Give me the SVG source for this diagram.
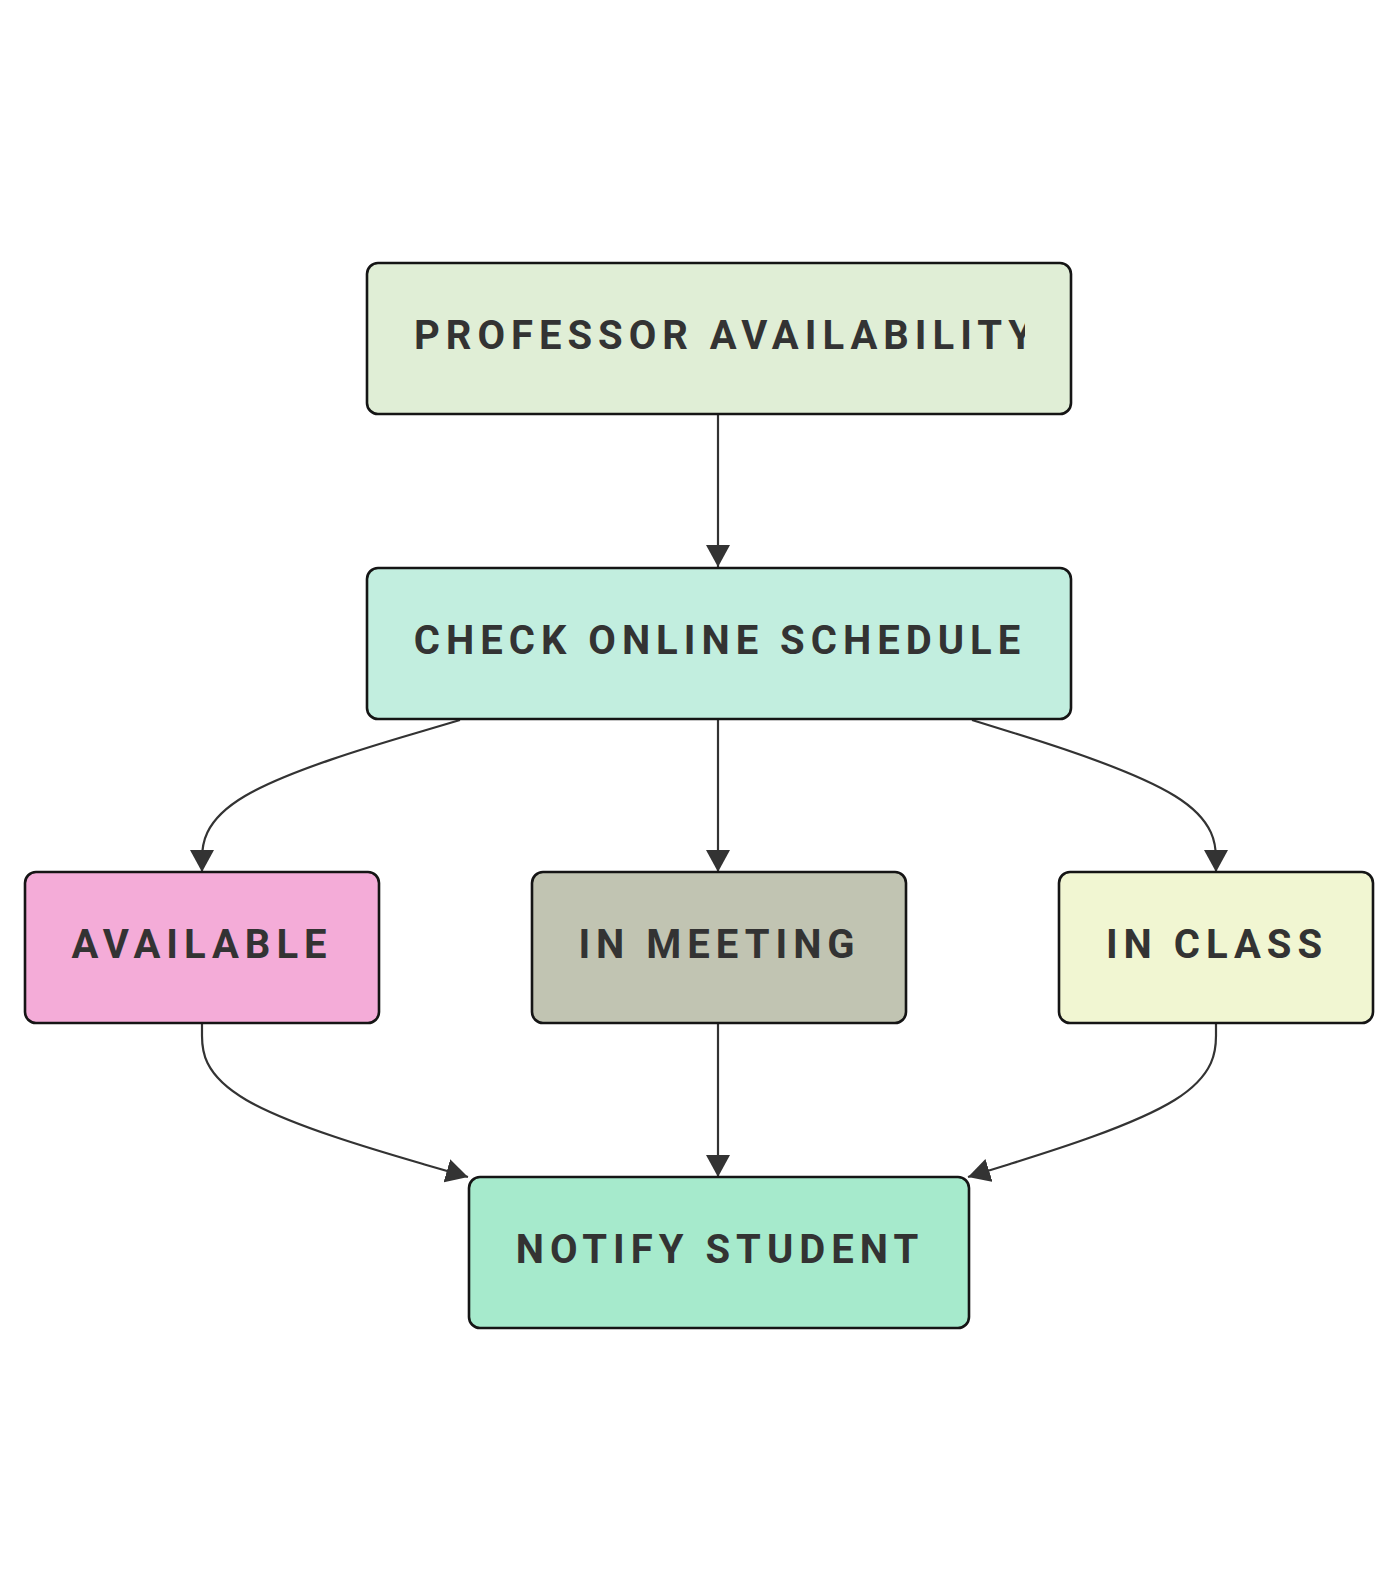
<svg xmlns="http://www.w3.org/2000/svg" width="1396" height="1592" viewBox="0 0 1396 1592">
<style>
.box{stroke:#151515;stroke-width:2.6}
.lbl{font-family:Roboto,"Liberation Sans",sans-serif;font-weight:700;font-size:40px;letter-spacing:6px;fill:#333333}
.mid{text-anchor:middle}
.edge{fill:none;stroke:#333333;stroke-width:2.2}
</style>
<defs>
<marker id="arr" viewBox="0 0 22 24" refX="22" refY="12" markerWidth="22" markerHeight="24" markerUnits="userSpaceOnUse" orient="auto">
<path d="M0,0 L22,12 L0,24 z" fill="#333333"/>
</marker>
<clipPath id="clipTop"><rect x="367" y="262" width="658" height="152"/></clipPath>
</defs>
<rect width="1396" height="1592" fill="#ffffff"/>
<g id="connectors">
<path class="edge" marker-end="url(#arr)" d="M718,414 L718,567"/>
<path class="edge" marker-end="url(#arr)" d="M460,720 L417,732.7 C374,745.3 288,770.7 245,796 C202,821.3 202,846.7 202,859.3 L202,872"/>
<path class="edge" marker-end="url(#arr)" d="M718,720 L718,872"/>
<path class="edge" marker-end="url(#arr)" d="M972,720 L1013,732.7 C1054,745.3 1134,770.7 1175,796 C1216,821.3 1216,846.7 1216,859.3 L1216,872"/>
<path class="edge" marker-end="url(#arr)" d="M202,1023 L202,1035.8 C202,1048.7 202,1074.3 246.3,1100 C290.7,1125.7 379.3,1151.3 423.7,1164.2 L468,1177"/>
<path class="edge" marker-end="url(#arr)" d="M718,1023 L718,1177"/>
<path class="edge" marker-end="url(#arr)" d="M1216,1023 L1216,1035.8 C1216,1048.7 1216,1074.3 1174.7,1100 C1133.3,1125.7 1050.7,1151.3 1009.3,1164.2 L968,1177"/>
</g>
<g id="professor-availability">
<rect class="box" x="367" y="263" width="704" height="151" rx="11" fill="#e0eed6"/>
<text class="lbl" x="414" y="348.5" clip-path="url(#clipTop)">PROFESSOR AVAILABILITY</text>
</g>
<g id="check-online-schedule">
<rect class="box" x="367" y="568" width="704" height="151" rx="11" fill="#c2eedf"/>
<text class="lbl mid" x="720" y="654">CHECK ONLINE SCHEDULE</text>
</g>
<g id="available">
<rect class="box" x="25" y="872" width="354" height="151" rx="11" fill="#f4acd8"/>
<text class="lbl mid" x="202" y="958">AVAILABLE</text>
</g>
<g id="in-meeting">
<rect class="box" x="532" y="872" width="374" height="151" rx="11" fill="#c1c4b2"/>
<text class="lbl mid" x="719.5" y="958">IN MEETING</text>
</g>
<g id="in-class">
<rect class="box" x="1059" y="872" width="314" height="151" rx="11" fill="#f1f6d2"/>
<text class="lbl mid" x="1217" y="958">IN CLASS</text>
</g>
<g id="notify-student">
<rect class="box" x="469" y="1177" width="500" height="151" rx="11" fill="#a6eacc"/>
<text class="lbl mid" x="720" y="1263">NOTIFY STUDENT</text>
</g>
</svg>
